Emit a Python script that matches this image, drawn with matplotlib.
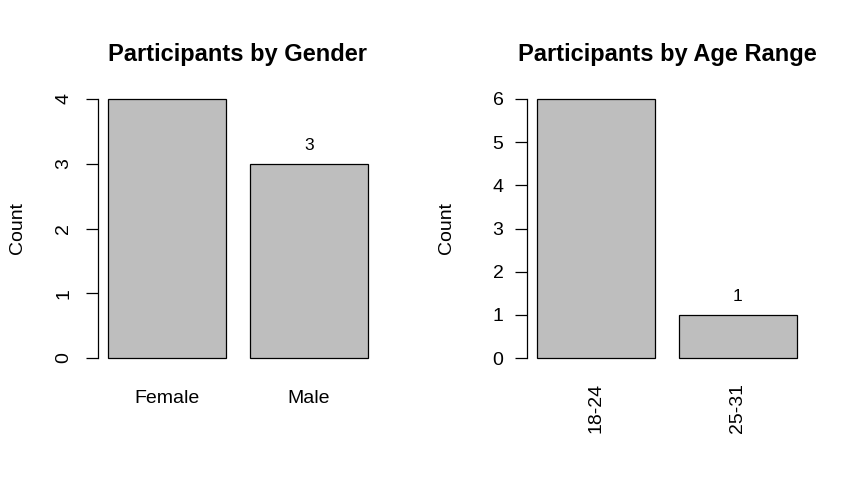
import matplotlib
matplotlib.use("Agg")
import matplotlib.pyplot as plt

plt.rcParams['font.family'] = ['Liberation Sans', 'DejaVu Sans']

gender_labels = ["Female", "Male"]
gender_counts = [4, 3]
age_labels = ["18-24", "25-31"]
age_counts = [6, 1]

W, H = 858, 483
fig = plt.figure(figsize=(W/100, H/100), dpi=100)

def ax_rect(x0, x1, y0, y1):
    return [x0/W, 1 - y1/H, (x1-x0)/W, (y1-y0)/H]

def panel(rect, labels, counts, title, ymax, perp):
    ax = fig.add_axes(rect)
    n = len(counts)
    centers = [0.7 + 1.2*i for i in range(n)]
    ax.bar(centers, counts, width=1.0, color="#BEBEBE", edgecolor="black", linewidth=0.9)
    xr = (0.2, 0.2 + 1.2*n - 0.2)
    ext = (xr[1]-xr[0])*0.04
    ax.set_xlim(xr[0]-ext, xr[1]+ext)
    ax.set_ylim(-0.04*ymax, ymax*1.04)
    for s in ["top", "right", "bottom"]:
        ax.spines[s].set_visible(False)
    ax.spines["left"].set_bounds(0, ymax)
    ax.spines["left"].set_linewidth(0.9)
    ax.set_yticks(range(0, ymax+1))
    ax.tick_params(axis="y", length=8.6, width=0.9, labelsize=14, pad=8 if perp else 9.5)
    if not perp:
        for t in ax.get_yticklabels():
            t.set_rotation(90)
            t.set_va("center")
    ax.set_xticks(centers)
    ax.set_xticklabels(labels, rotation=90 if perp else 0)
    ax.tick_params(axis="x", length=0, labelsize=14, pad=10.5 if perp else 15.5)
    ax.set_ylabel("Count", fontsize=14)
    ax.yaxis.label.set_verticalalignment("center")
    ax.yaxis.set_label_coords(-0.285, 0.5)
    ax.set_title(title, fontsize=17, fontweight="bold", pad=20)
    for c, v in zip(centers, counts):
        ax.annotate(str(v), (c, v), xytext=(0, 13), textcoords="offset points",
                    ha="center", va="center", fontsize=12.5)
    return ax

ax1 = panel(ax_rect(97.6, 378.4, 88.6, 368.4), gender_labels, gender_counts,
            "Participants by Gender", 4, False)
ax2 = panel(ax_rect(526.6, 807.4, 88.6, 368.4), age_labels, age_counts,
            "Participants by Age Range", 6, True)

# value labels outside the plotting region are clipped (as in the original)
fig.canvas.draw()
for ax in (ax1, ax2):
    for t in ax.texts:
        bb = t.get_window_extent()
        if bb.y1 > ax.bbox.y1:
            t.set_visible(False)

fig.savefig("out.png", dpi=100, facecolor="white")
